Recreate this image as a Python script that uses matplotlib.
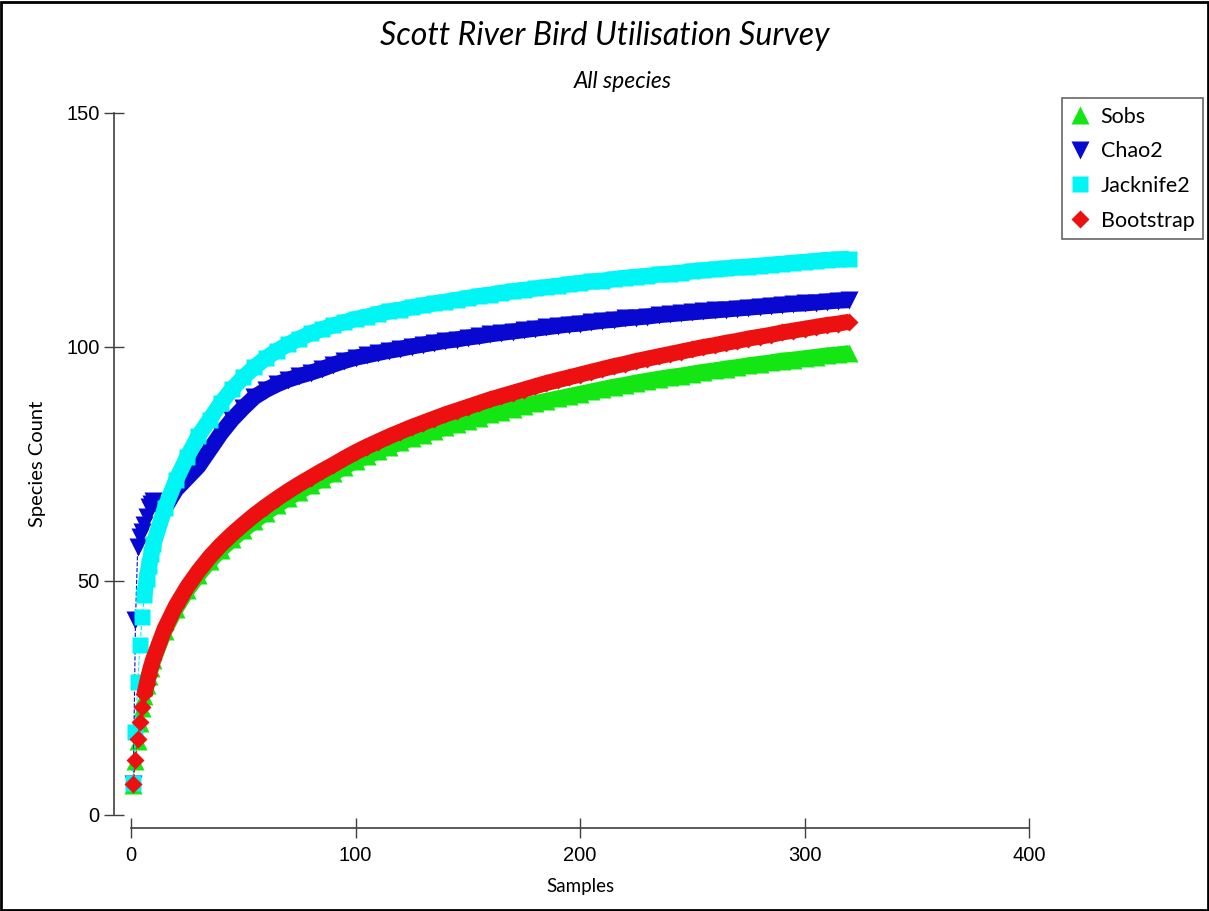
import matplotlib
matplotlib.use("Agg")
import matplotlib.pyplot as plt

# sample positions: every sample up to 10, then every 5th
samples = list(range(1, 11)) + list(range(15, 321, 5))

sobs = [6.5, 11.5, 15.9, 19.6, 22.8, 25.5, 27.7, 29.7, 31.5, 33.1,
        39.4, 44.1, 48.0, 51.3, 54.2, 56.7, 58.9, 60.9, 62.8, 64.6, 66.2, 67.7, 69.1, 70.5, 71.8, 73.0, 74.4, 75.6,
        76.7, 77.7, 78.7, 79.6, 80.5, 81.2, 82.0, 82.8, 83.5, 84.2, 84.9, 85.6, 86.2, 86.8, 87.4, 88.0, 88.5, 89.0,
        89.5, 90.0, 90.5, 91.0, 91.5, 91.9, 92.4, 92.8, 93.2, 93.6, 93.9, 94.3, 94.7, 95.0, 95.4, 95.7, 96.1, 96.4,
        96.7, 97.1, 97.3, 97.6, 97.9, 98.2, 98.4, 98.7]

chao2 = [6.6, 41.7, 57.3, 59.4, 60.5, 62.0, 63.7, 65.8, 66.5, 67.0,
         65.5, 69.5, 72.0, 74.5, 78.0, 81.5, 84.5, 87.0, 89.3, 90.8, 92.0, 93.0, 93.8, 94.5, 95.3, 96.2, 97.0, 97.7,
         98.2, 98.7, 99.2, 99.6, 100.1, 100.5, 100.9, 101.3, 101.6, 102.0, 102.3, 102.7, 103.0, 103.3, 103.6, 103.9,
         104.2, 104.5, 104.8, 105.0, 105.3, 105.6, 105.8, 106.1, 106.3, 106.5, 106.8, 107.0, 107.2, 107.4, 107.6,
         107.8, 108.0, 108.2, 108.4, 108.6, 108.8, 109.0, 109.2, 109.3, 109.5, 109.7, 109.9, 110.0]

jack2 = [6.8, 17.7, 28.4, 36.3, 42.3, 47.0, 50.5, 53.3, 55.7, 57.8,
         65.5, 71.5, 76.5, 81.0, 84.5, 88.0, 91.0, 93.5, 95.7, 97.6, 99.2, 100.6, 101.8, 102.9, 103.8, 104.6, 105.3, 106.0,
         106.5, 107.1, 107.6, 108.0, 108.5, 108.9, 109.3, 109.7, 110.1, 110.5, 110.9, 111.2, 111.6, 111.9, 112.2, 112.5,
         112.8, 113.1, 113.4, 113.7, 114.0, 114.2, 114.5, 114.8, 115.0, 115.2, 115.5, 115.7, 115.9, 116.2, 116.4,
         116.6, 116.8, 117.0, 117.2, 117.4, 117.6, 117.8, 118.0, 118.2, 118.4, 118.6, 118.7, 118.9]

bootstrap = [6.6, 11.8, 16.2, 19.9, 23.1, 25.8, 28.0, 30.0, 31.8, 33.4,
             39.8, 44.7, 48.7, 52.1, 55.1, 57.7, 60.0, 62.1, 64.1, 65.9, 67.6, 69.2, 70.7, 72.1, 73.5, 74.8, 76.2, 77.5,
             78.7, 79.8, 80.9, 81.9, 82.9, 83.8, 84.7, 85.6, 86.4, 87.2, 88.0, 88.8, 89.5, 90.2, 90.9, 91.6, 92.3, 92.9,
             93.5, 94.1, 94.7, 95.3, 95.9, 96.4, 97.0, 97.5, 98.0, 98.5, 99.0, 99.5, 100.0, 100.4, 100.9, 101.3, 101.8,
             102.2, 102.6, 103.1, 103.5, 103.9, 104.3, 104.7, 105.0, 105.4]

W, H = 1209, 911
fig = plt.figure(figsize=(W / 100, H / 100), dpi=100)
ax = fig.add_axes([131 / W, 96 / H, 898 / W, 702 / H])

series = [
    ('Sobs', sobs, '#14e614', '^', 12.5, 5),
    ('Chao2', chao2, '#0808d0', 'v', 12.5, 7),
    ('Jacknife2', jack2, '#00f5f5', 's', 11, 5),
    ('Bootstrap', bootstrap, '#ec1010', 'D', 8.8, 5),
]

for name, vals, col, mk, ms, start in series:
    # overlapping markers in the original form a solid band once points get dense
    ax.plot(samples[start:], vals[start:], '-', color=col, lw=11.5, solid_joinstyle='round',
            solid_capstyle='butt', clip_on=False, zorder=3)
    ax.plot(samples, vals, '--', color=col, lw=0.8, marker=mk, ms=ms, mec='none',
            label=name, clip_on=False, zorder=3)

ax.set_xlim(0, 400)
ax.set_ylim(0, 150)
ax.set_xticks([0, 100, 200, 300, 400])
ax.set_yticks([0, 50, 100, 150])

for side in ['top', 'right']:
    ax.spines[side].set_visible(False)
ax.spines['left'].set_position(('outward', 12))
ax.spines['bottom'].set_position(('outward', 9.5))
ax.spines['left'].set_bounds(0, 150)
ax.spines['bottom'].set_bounds(0, 400)
for side in ['left', 'bottom']:
    ax.spines[side].set_color('#404040')
    ax.spines[side].set_linewidth(1.2)

ax.tick_params(direction='inout', length=15, width=1, color='#404040',
               labelsize=14.5, pad=3)
ax.tick_params(axis='x', pad=5)
for lab in ax.get_xticklabels() + ax.get_yticklabels():
    lab.set_family(['Liberation Sans', 'DejaVu Sans'])

ax.set_xlabel('Samples', fontsize=13.5, family='Lato', labelpad=10)
ax.set_ylabel('Species Count', fontsize=14.5, family='Lato', labelpad=15)

fig.text(605 / W, 1 - 36 / H, 'Scott River Bird Utilisation Survey', ha='center', va='center',
         fontsize=23, style='italic', family='Lato')
fig.text(623 / W, 1 - 81 / H, 'All species', ha='center', va='center',
         fontsize=16.5, style='italic', family='Lato')

leg = fig.legend(loc='upper right', bbox_to_anchor=(1203 / W, 1 - 98 / H),
                 prop={'family': 'Lato', 'size': 15.5}, frameon=True, fancybox=False,
                 borderaxespad=0, handlelength=0.9, handletextpad=0.5, labelspacing=0.68,
                 borderpad=0.4, markerscale=1.0)
leg.get_frame().set_edgecolor('#404040')
leg.get_frame().set_linewidth(1.2)
for h in leg.get_lines():
    h.set_linestyle('none')

# outer frame around the whole picture
fig.add_artist(plt.Rectangle((0.001, 0.001), 0.998, 0.997, transform=fig.transFigure,
                             fill=False, ec='black', lw=2))

fig.savefig('out.png', dpi=100)
